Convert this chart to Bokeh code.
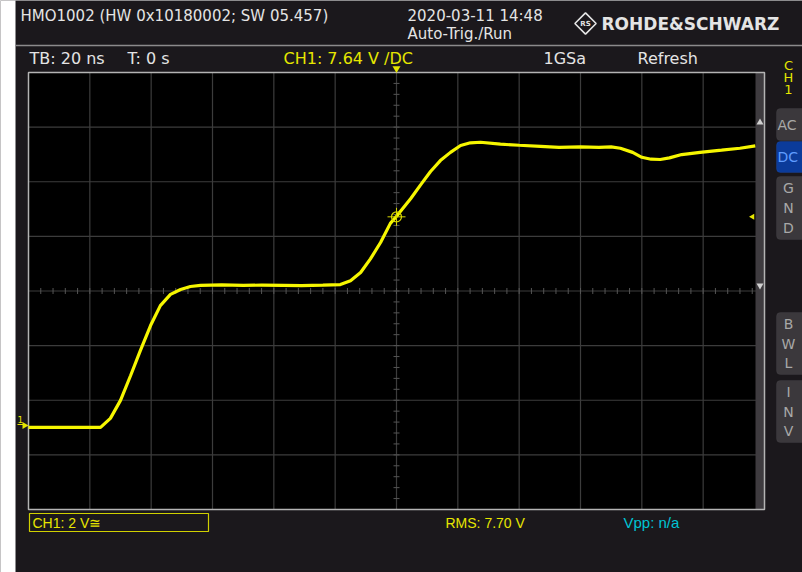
import numpy as np
from bokeh.plotting import figure
from bokeh.models import Range1d, BoxAnnotation
from bokeh.core.properties import value
from bokeh.embed import file_html
from bokeh.resources import INLINE

# ---------------- data ----------------
time_ns = [-120, -110, -100, -96.5, -93.3, -90, -86.7, -83.5, -80.2, -77, -73.7, -70.4,
           -67.2, -63.9, -57, -50, -44, -37, -31, -24, -18.3, -15, -11.7, -8.5, -5.2, -2,
           0, 4.6, 7.8, 11.1, 14.3, 17.6, 20.9, 24.1, 27.4, 33.9, 40, 47, 53, 60, 66, 70,
           73, 77, 80, 83, 86, 89, 93, 99, 106, 112, 117]
ch1_volts = [-0.07, -0.07, -0.07, -0.07, 0.26, 0.92, 1.83, 2.75, 3.66, 4.39, 4.80, 4.98,
             5.09, 5.13, 5.15, 5.13, 5.14, 5.13, 5.12, 5.14, 5.16, 5.30, 5.60, 6.10, 6.70, 7.40,
             7.66, 8.30, 8.80, 9.30, 9.70, 10.00, 10.25, 10.35, 10.37, 10.30, 10.26, 10.22, 10.18, 10.20, 10.18, 10.20,
             10.15, 10.00, 9.82, 9.75, 9.74, 9.80, 9.92, 10.00, 10.08, 10.15, 10.24]

time_per_div = 20          # ns / div
volts_per_div = 2          # V / div
n_hdiv, n_vdiv = 12, 8
screen_bottom_volts = -3.075
trigger_time = 0
trigger_level = 7.64

header_title = "HMO1002 (HW 0x10180002; SW 05.457)"
header_date = "2020-03-11 14:48"
header_mode = "Auto-Trig./Run"
brand = "ROHDE&SCHWARZ"
status_labels = ["TB: 20 ns", "T: 0 s", "1GSa", "Refresh"]
trig_label = "CH1: 7.64 V /DC"
ch_scale_label = "CH1: 2 V≅"
rms_label = "RMS: 7.70 V"
vpp_label = "Vpp: n/a"
button_labels = [["AC"], ["DC"], ["G", "N", "D"], ["B", "W", "L"], ["I", "N", "V"]]

# ---------------- layout helpers (reference pixel -> data) ----------------
W, H = 802, 572
XS = 736 / 240.0      # px per ns
YS = 437 / 16.0       # px per V
def tx(X):
    return (X - 396) / XS
def ty(Y):
    return (425 - Y) / YS

FONT = value("DejaVu Sans")
NARROW = value("Liberation Sans")
WHITE = "#e4e4e4"
YEL = "#e6e600"
CYAN = "#00c4d4"
BG = "#1b181c"

p = figure(width=W, height=H, x_range=Range1d(tx(0), tx(W)),
           y_range=Range1d(ty(H), ty(0)), output_backend="svg",
           toolbar_location=None, min_border=0, x_axis_type=None, y_axis_type=None)
p.outline_line_color = None
p.background_fill_color = BG
p.border_fill_color = BG

# white strip at left edge
p.quad(left=[tx(-5)], right=[tx(15)], bottom=[ty(600)], top=[ty(-5)], fill_color="white", line_color=None)

# header separator
p.segment(x0=[tx(15)], x1=[tx(802)], y0=[ty(45)], y1=[ty(45)], line_color="#8c8a8c", line_width=1.5)

# screen area
t_left = -time_per_div * n_hdiv / 2
t_right = time_per_div * n_hdiv / 2
v_bot = screen_bottom_volts
v_top = screen_bottom_volts + volts_per_div * n_vdiv
v_mid = (v_bot + v_top) / 2
p.quad(left=[t_left], right=[t_right], bottom=[v_bot], top=[v_top], fill_color="black", line_color=None)

gx = [t_left + i * time_per_div for i in range(1, n_hdiv)]
p.segment(x0=gx, x1=gx, y0=[v_bot] * len(gx), y1=[v_top] * len(gx), line_color="#3c3c3c", line_width=1.2)
gy = [v_bot + j * volts_per_div for j in range(1, n_vdiv)]
p.segment(x0=[t_left] * len(gy), x1=[t_right] * len(gy), y0=gy, y1=gy, line_color="#3c3c3c", line_width=1.2)

# minor ticks on center lines
mt = [t_left + k * time_per_div / 5 for k in range(1, n_hdiv * 5)]
p.segment(x0=mt, x1=mt, y0=[v_mid - 3 / YS] * len(mt), y1=[v_mid + 3 / YS] * len(mt), line_color="#555555", line_width=1)
mv = [v_bot + k * volts_per_div / 5 for k in range(1, n_vdiv * 5)]
p.segment(x0=[trigger_time - 3 / XS] * len(mv), x1=[trigger_time + 3 / XS] * len(mv), y0=mv, y1=mv, line_color="#555555", line_width=1)

# scroll strip at right of screen
p.quad(left=[tx(755)], right=[tx(764)], bottom=[v_bot], top=[v_top], fill_color="#3e3b3f", line_color=None)
p.scatter(x=[tx(759.5)], y=[ty(122)], marker="triangle", size=7, fill_color="#d0d0d0", line_color=None)
p.scatter(x=[tx(759.5)], y=[ty(285)], marker="inverted_triangle", size=7, fill_color="#d0d0d0", line_color=None)

# screen border
p.quad(left=[t_left], right=[t_right], bottom=[v_bot], top=[v_top], fill_color=None, line_color="#b4b4b4", line_width=1.5)

# waveform
p.line(time_ns, ch1_volts, line_color="#f6f600", line_width=3.2)

# trigger markers
p.scatter(x=[trigger_time], y=[trigger_level], marker="circle", size=10, fill_color=None, line_color="#d8d800", line_width=1.2)
p.scatter(x=[trigger_time], y=[trigger_level], marker="cross", size=18, fill_color=None, line_color="#d8d800", line_width=1)
p.scatter(x=[trigger_time], y=[ty(68)], marker="inverted_triangle", size=8, fill_color="#e6e600", line_color=None)
p.scatter(x=[tx(752)], y=[trigger_level], marker="triangle", angle=np.pi / 2, size=6, fill_color="#e6e600", line_color=None)

# ground marker
p.scatter(x=[tx(24)], y=[0], marker="triangle", angle=-np.pi / 2, size=7, fill_color="#e6e600", line_color=None)
p.text(x=[tx(17)], y=[ty(419)], text=["1"], text_font=FONT, text_font_size="9px", text_color=YEL,
       text_baseline="middle", text_align="left")
p.segment(x0=[tx(17)], x1=[tx(24)], y0=[ty(424)], y1=[ty(424)], line_color=YEL, line_width=1)

# header texts
p.text(x=[tx(20)], y=[ty(15)], text=[header_title], text_font=FONT, text_font_size="15px", text_color=WHITE,
       text_baseline="middle", text_align="left")
p.text(x=[tx(407), tx(407)], y=[ty(15), ty(33)], text=[header_date, header_mode], text_font=FONT,
       text_font_size="15px", text_color=WHITE, text_baseline="middle", text_align="left")
p.text(x=[tx(601)], y=[ty(23)], text=[brand], text_font=FONT, text_font_size="17px", text_font_style="bold",
       text_color=WHITE, text_baseline="middle", text_align="left")
p.scatter(x=[tx(585)], y=[ty(23)], marker="square", angle=np.pi / 4, size=15, fill_color=None,
          line_color=WHITE, line_width=1.6)
p.text(x=[tx(585)], y=[ty(23)], text=["RS"], text_font=FONT, text_font_size="7px", text_font_style="bold",
       text_color=WHITE, text_baseline="middle", text_align="center")

# status row
p.text(x=[tx(29), tx(127), tx(543), tx(637)], y=[ty(58)] * 4, text=status_labels, text_font=FONT,
       text_font_size="16px", text_color=WHITE, text_baseline="middle", text_align="left")
p.text(x=[tx(283)], y=[ty(58)], text=[trig_label], text_font=FONT, text_font_size="16px", text_color=YEL,
       text_baseline="middle", text_align="left")

# CH1 vertical label
p.text(x=[tx(788)] * 3, y=[ty(65), ty(77), ty(89)], text=["C", "H", "1"], text_font=FONT, text_font_size="13px",
       text_color=YEL, text_baseline="middle", text_align="center")

# side buttons
btn_rows = [(108, 140), (141, 172), (176, 239), (312, 374), (380, 442)]
for i, ((y0, y1), labels) in enumerate(zip(btn_rows, button_labels)):
    fill = "#0b3b9a" if i == 1 else "#3b383c"
    p.add_layout(BoxAnnotation(left=tx(776), right=tx(812), top=ty(y0), bottom=ty(y1), fill_color=fill,
                               fill_alpha=1.0, line_color="#4a474b" if i != 1 else "#2050b0", border_radius=4,
                               level="underlay"))
    tcol = "#5f9cff" if i == 1 else "#a8a8a8"
    n = len(labels)
    if n == 1:
        p.text(x=[tx(777)], y=[ty((y0 + y1) / 2)], text=labels, text_font=FONT,
               text_font_size="14px", text_color=tcol, text_baseline="middle", text_align="left")
    else:
        step = (y1 - y0) / (n + 0.2)
        ys = [ty(y0 + step * (k + 0.6)) for k in range(n)]
        p.text(x=[tx(788)] * n, y=ys, text=labels, text_font=FONT, text_font_size="14px", text_color=tcol,
               text_baseline="middle", text_align="center")

# bottom status
p.quad(left=[tx(29)], right=[tx(208)], bottom=[ty(531)], top=[ty(513)], fill_color=None, line_color="#d0d000", line_width=1.2)
p.text(x=[tx(32)], y=[ty(522)], text=[ch_scale_label], text_font=NARROW, text_font_size="14px",
       text_color=YEL, text_baseline="middle", text_align="left")
p.text(x=[tx(445)], y=[ty(522)], text=[rms_label], text_font=NARROW, text_font_size="14px",
       text_color=YEL, text_baseline="middle", text_align="left")
p.text(x=[tx(623)], y=[ty(522)], text=[vpp_label], text_font=NARROW, text_font_size="15px",
       text_color=CYAN, text_baseline="middle", text_align="left")

open("out.html", "w").write(file_html(p, INLINE))
